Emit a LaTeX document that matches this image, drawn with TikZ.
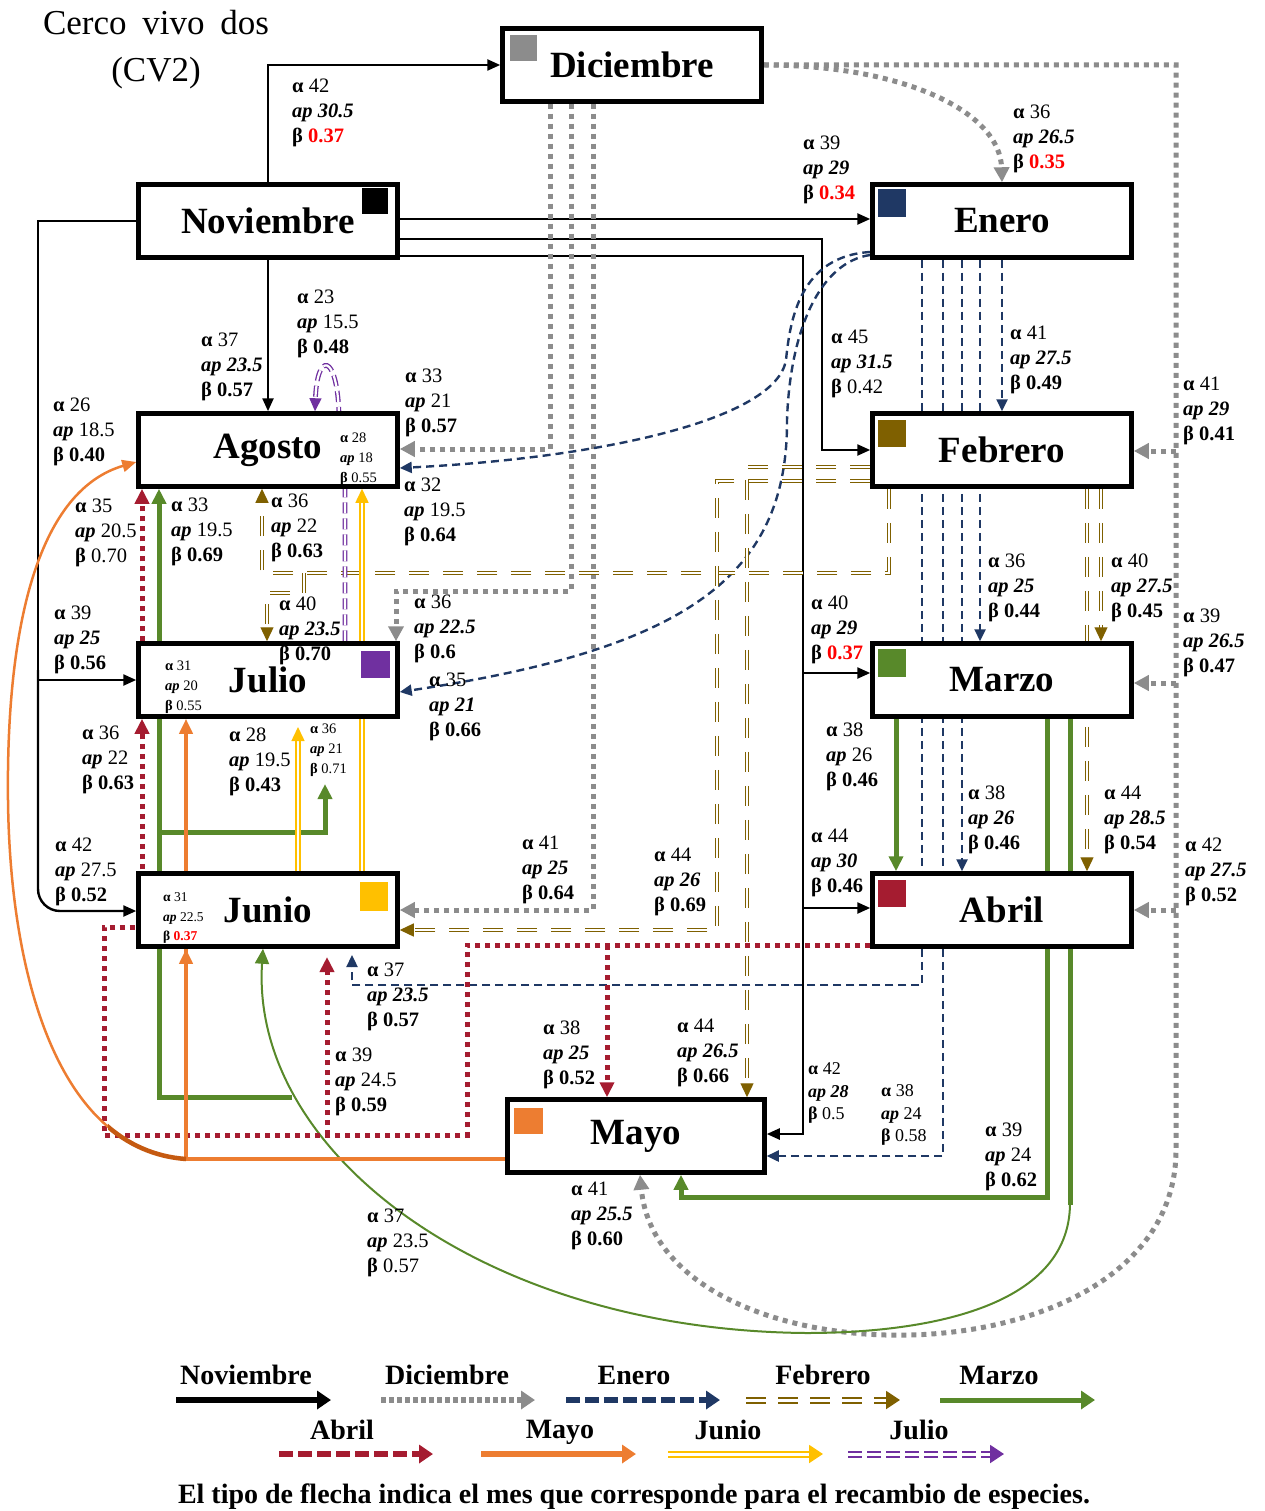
\documentclass[tikz,border=0pt]{standalone}
\usepackage{fontspec}
\setmainfont{Liberation Serif}
\usetikzlibrary{arrows.meta}
\definecolor{cgray}{RGB}{140,140,140}
\definecolor{cnavy}{RGB}{31,56,100}
\definecolor{cbrown}{RGB}{127,96,0}
\definecolor{cgreen}{RGB}{88,137,42}
\definecolor{ccrim}{RGB}{165,28,48}
\definecolor{corange}{RGB}{237,125,49}
\definecolor{cdorange}{RGB}{197,90,17}
\definecolor{cyellow}{RGB}{255,192,0}
\definecolor{cpurple}{RGB}{112,48,160}
\pgfdeclarelayer{bg}
\pgfsetlayers{bg,main}
\newcommand{\myA}[1]{\textbf{α} #1}
\newcommand{\myP}[1]{\textbf{\textit{ap}} #1}
\newcommand{\myPb}[1]{\textbf{\textit{ap #1}}}
\newcommand{\myB}[1]{\textbf{β #1}}
\newcommand{\myBn}[1]{\textbf{β} #1}
\newcommand{\myBr}[1]{\textbf{β \textcolor{red}{#1}}}
\begin{document}
\begin{tikzpicture}[x=1pt,y=-1pt,
  monthbox/.style={draw, line width=4.5pt, fill=white, minimum width=259pt, minimum height=73pt, inner sep=0pt, font=\fontsize{37}{40}\selectfont\bfseries},
  lbl/.style={anchor=west, align=left, inner sep=0pt, font=\fontsize{20.5}{25}\selectfont},
  mlbl/.style={anchor=west, align=left, inner sep=0pt, font=\fontsize{18}{22.5}\selectfont},
  slbl/.style={anchor=west, align=left, inner sep=0pt, font=\fontsize{14.5}{20}\selectfont},
  sslbl/.style={anchor=west, align=left, inner sep=0pt, font=\fontsize{13.5}{19.5}\selectfont},
  legt/.style={inner sep=0pt, font=\fontsize{28}{32}\selectfont\bfseries},
  cNov/.style={draw=black, line width=2.4pt, -{Triangle[length=13pt,width=11pt]}},
  cDic/.style={draw=cgray, line width=5pt, dash pattern=on 5pt off 5pt, -{Triangle[length=15pt,width=15pt]}},
  cEne/.style={draw=cnavy, line width=2.4pt, dash pattern=on 8pt off 5pt, -{Triangle[length=12pt,width=11pt]}},
  cFeb/.style={draw=cbrown, line width=1.3pt, double=white, double distance=2.2pt, dash pattern=on 20pt off 14pt, -{Triangle[length=14pt,width=13pt]}},
  cMar/.style={draw=cgreen, line width=5pt, -{Triangle[length=15pt,width=14pt]}},
  cAbr/.style={draw=ccrim, line width=5pt, dash pattern=on 5pt off 5pt, -{Triangle[length=15pt,width=14pt]}},
  cMay/.style={draw=corange, line width=4pt, -{Triangle[length=15pt,width=13pt]}},
  cJun/.style={draw=cyellow, line width=1.5pt, double=white, double distance=2.2pt, -{Triangle[length=14pt,width=13pt]}},
  cJul/.style={draw=cpurple, line width=1.3pt, double=white, double distance=2.2pt, dash pattern=on 11pt off 5pt, -{Triangle[length=13pt,width=12pt]}},
  lgNov/.style={draw=black, line width=6pt, -{Triangle[length=14pt,width=18pt]}},
  lgDic/.style={draw=cgray, line width=6pt, dash pattern=on 5pt off 3pt, -{Triangle[length=14pt,width=18pt]}},
  lgEne/.style={draw=cnavy, line width=6pt, dash pattern=on 14pt off 5pt, -{Triangle[length=14pt,width=18pt]}},
  lgFeb/.style={draw=cbrown, line width=2pt, double=white, double distance=3pt, dash pattern=on 20pt off 12pt, -{Triangle[length=14pt,width=18pt]}},
  lgMar/.style={draw=cgreen, line width=5pt, -{Triangle[length=14pt,width=18pt]}},
  lgAbr/.style={draw=ccrim, line width=6pt, dash pattern=on 14pt off 5pt, -{Triangle[length=14pt,width=18pt]}},
  lgMay/.style={draw=corange, line width=6pt, -{Triangle[length=14pt,width=18pt]}},
  lgJun/.style={draw=cyellow, line width=2pt, double=white, double distance=3pt, -{Triangle[length=14pt,width=18pt]}},
  lgJul/.style={draw=cpurple, line width=2pt, double=white, double distance=3pt, dash pattern=on 14pt off 5pt, -{Triangle[length=14pt,width=18pt]}},
]
\useasboundingbox (0,0) rectangle (1264,1511);

% title
\node[font=\fontsize{35}{47}\selectfont, align=center, inner sep=0pt] (title) at (156,50) {Cerco\hspace{0.45em}vivo\hspace{0.45em}dos\\(CV2)};

% month boxes
\node[monthbox] (dic) at (632,65) {Diciembre};
\node[monthbox] (nov) at (268,221) {Noviembre};
\node[monthbox] (ene) at (1002,221) {Enero};
\node[monthbox] (ago) at (268,450) {Agosto};
\node[monthbox] (feb) at (1002,450) {Febrero};
\node[monthbox] (jul) at (268,680) {Julio};
\node[monthbox] (mar) at (1002,680) {Marzo};
\node[monthbox] (jun) at (268,910) {Junio};
\node[monthbox] (abr) at (1002,910) {Abril};
\node[monthbox, minimum width=257pt] (may) at (636,1136) {Mayo};

% colour squares
\fill[cgray] (510,35) rectangle (537,61);
\fill[black] (362,188) rectangle (388,214);
\fill[cnavy] (878,189) rectangle (906,217);
\fill[cbrown] (878,420) rectangle (906,447);
\fill[cpurple] (361,651) rectangle (390,678);
\fill[cgreen] (878,649) rectangle (906,677);
\fill[cyellow] (360,882) rectangle (388,911);
\fill[ccrim] (878,880) rectangle (906,907);
\fill[corange] (514,1108) rectangle (543,1134);

% free ends
\coordinate (eneEnd) at (352,955);
\coordinate (abrEnd) at (327,957);
\coordinate (junEnd) at (298,727);
\coordinate (marEnd) at (325,784);

\begin{pgfonlayer}{bg}
% Noviembre
\draw[cNov] (nov.north) |- (dic.west);
\draw[cNov] (nov.east |- 0,219) -- (ene.west |- 0,219);
\draw[cNov] (nov.east |- 0,239) -- (822,239) -- (822,450) -- (feb.west);
\draw[cNov] (nov.east |- 0,256) -- (803,256) -- (803,1134) -- (may.east |- 0,1134);
\draw[cNov] (803,673) -- (mar.west |- 0,673);
\draw[cNov] (803,908) -- (abr.west |- 0,908);
\draw[cNov] (nov.south) -- (ago.north);
\draw[cNov] (nov.west) -- (38,221) -- (38,680) -- (jul.west);
\draw[cNov, rounded corners=22pt] (38,670) -- (38,911) -- (jun.west |- 0,911);
% Diciembre
\draw[cDic] (dic.east) .. controls (900,65) and (1000,110) .. (ene.north);
\draw[cDic] (dic.east) -- (1176,65) -- (1176,1150) .. controls (1176,1390) and (660,1390) .. (may.south -| 640,0);
\draw[cDic] (1176,451) -- (feb.east |- 0,451);
\draw[cDic] (1176,683) -- (mar.east |- 0,683);
\draw[cDic] (1176,910) -- (abr.east |- 0,910);
\draw[cDic] (550,0 |- dic.south) -- (550,449) -- (ago.east |- 0,449);
\draw[cDic] (571,0 |- dic.south) -- (571,591) -- (396,591) -- (396,0 |- jul.north);
\draw[cDic] (593,0 |- dic.south) -- (593,910) -- (jun.east |- 0,910);
% Enero
\draw[cEne] (ene.west |- 0,252) .. controls (800,256) and (790,320) .. (786,360) .. controls (776,420) and (600,458) .. (ago.east |- 0,468);
\draw[cEne] (ene.west |- 0,255) .. controls (820,262) and (790,330) .. (787,420) .. controls (788,580) and (680,650) .. (jul.east |- 0,692);
\draw[cEne] (ene.south) -- (feb.north);
\draw[cEne] (980,0 |- ene.south) -- (980,0 |- mar.north);
\draw[cEne] (962,0 |- ene.south) -- (962,0 |- abr.north);
\draw[cEne] (943,0 |- ene.south) -- (943,1156) -- (may.east |- 0,1156);
\draw[cEne] (922,0 |- ene.south) -- (922,985) -- (352,985) -- (eneEnd);
% Febrero
\draw[cFeb] (889,0 |- feb.south) -- (889,573) -- (262,573) -- (262,0 |- ago.south);
\draw[cFeb] (304,573) -- (304,593) -- (267,593) -- (267,0 |- jul.north);
\draw[cFeb] (feb.west |- 0,481) -- (717,481) -- (717,930) -- (jun.east |- 0,930);
\draw[cFeb] (feb.west |- 0,467) -- (747,467) -- (747,0 |- may.north);
\draw[cFeb] (1101,0 |- feb.south) -- (1101,0 |- mar.north);
\draw[cFeb] (1087,0 |- feb.south) -- (1087,0 |- abr.north);
% Marzo
\draw[cMar] (896,0 |- mar.south) -- (896,0 |- abr.north);
\draw[cMar] (1047,0 |- mar.south) -- (1047,1197) -- (681,1197) -- (681,0 |- may.south);
\draw[cMar, -] (1070,0 |- mar.south) -- (1070,1205);
\draw[cMar, line width=2pt] (1070,1203) .. controls (1070,1310) and (920,1333) .. (806,1333) .. controls (480,1330) and (250,1150) .. (263,0 |- jun.south);
\draw[cMar] (292,1097) -- (159,1097) -- (159,0 |- ago.south);
\draw[cMar] (159,832) -- (325,832) -- (marEnd);
% Abril
\draw[cAbr] (abr.west |- 0,945) -- (467,945) -- (467,1135) -- (104,1135) -- (104,927) -- (142,927) -- (142,0 |- jul.south);
\draw[cAbr] (142,0 |- jul.north) -- (142,0 |- ago.south);
\draw[cAbr] (327,1135) -- (abrEnd);
\draw[cAbr] (607,945) -- (607,0 |- may.north);
% Mayo
\draw[cMay] (may.west |- 0,1159) -- (186,1159) -- (186,0 |- jun.south);
\draw[cMay] (186,1159) -- (186,0 |- jul.south);
\draw[corange, line width=2.5pt, -{Triangle[length=14pt,width=12pt]}] (186,1159) .. controls (60,1150) and (10,980) .. (8,800) .. controls (6,620) and (40,490) .. (ago.west |- 0,462);
\begin{scope}
\clip (108,1122) rectangle (188,1175);
\draw[cdorange, line width=4.5pt] (186,1159) .. controls (60,1150) and (10,980) .. (8,800);
\end{scope}
% Junio
\draw[cJun] (362,0 |- jun.north) -- (362,0 |- ago.south);
\draw[cJun] (298,0 |- jun.north) -- (junEnd);
% Julio
\draw[cJul] (345,0 |- jul.north) -- (345,440) -- (339,414) .. controls (337,352) and (317,352) .. (315,0 |- ago.north);
\end{pgfonlayer}

% labels
\node[lbl] (t1) at (292,113) {\myA{42}\\\myPb{30.5}\\\myBr{0.37}};
\node[lbl] (t2) at (1013,139) {\myA{36}\\\myPb{26.5}\\\myBr{0.35}};
\node[lbl] (t3) at (803,170) {\myA{39}\\\myPb{29}\\\myBr{0.34}};
\node[lbl] (t4) at (297,324) {\myA{23}\\\myP{15.5}\\\myB{0.48}};
\node[lbl] (t5) at (201,367) {\myA{37}\\\myPb{23.5}\\\myB{0.57}};
\node[lbl] (t6) at (405,403) {\myA{33}\\\myP{21}\\\myB{0.57}};
\node[lbl] (t7) at (53,432) {\myA{26}\\\myP{18.5}\\\myB{0.40}};
\node[lbl] (t8) at (831,364) {\myA{45}\\\myPb{31.5}\\\myBn{0.42}};
\node[lbl] (t9) at (1010,360) {\myA{41}\\\myPb{27.5}\\\myB{0.49}};
\node[lbl] (t10) at (1183,411) {\myA{41}\\\myPb{29}\\\myB{0.41}};
\node[slbl] (t11) at (340,459) {\myA{28}\\\myP{18}\\\myBn{0.55}};
\node[lbl] (t12) at (75,533) {\myA{35}\\\myP{20.5}\\\myBn{0.70}};
\node[lbl] (t13) at (171,532) {\myA{33}\\\myP{19.5}\\\myB{0.69}};
\node[lbl] (t14) at (271,528) {\myA{36}\\\myP{22}\\\myB{0.63}};
\node[lbl] (t15) at (404,512) {\myA{32}\\\myP{19.5}\\\myB{0.64}};
\node[lbl] (t16) at (279,631) {\myA{40}\\\myPb{23.5}\\\myB{0.70}};
\node[lbl] (t17) at (414,629) {\myA{36}\\\myPb{22.5}\\\myB{0.6}};
\node[lbl] (t18) at (988,588) {\myA{36}\\\myPb{25}\\\myB{0.44}};
\node[lbl] (t19) at (1111,588) {\myA{40}\\\myPb{27.5}\\\myB{0.45}};
\node[lbl] (t20) at (54,640) {\myA{39}\\\myPb{25}\\\myB{0.56}};
\node[lbl] (t21) at (811,630) {\myA{40}\\\myPb{29}\\\myBr{0.37}};
\node[lbl] (t22) at (1183,643) {\myA{39}\\\myPb{26.5}\\\myB{0.47}};
\node[slbl] (t23) at (165,687) {\myA{31}\\\myP{20}\\\myBn{0.55}};
\node[lbl] (t24) at (429,707) {\myA{35}\\\myPb{21}\\\myB{0.66}};
\node[lbl] (t25) at (82,760) {\myA{36}\\\myP{22}\\\myB{0.63}};
\node[lbl] (t26) at (229,762) {\myA{28}\\\myP{19.5}\\\myB{0.43}};
\node[slbl] (t27) at (310,750) {\myA{36}\\\myP{21}\\\myBn{0.71}};
\node[lbl] (t28) at (826,757) {\myA{38}\\\myP{26}\\\myB{0.46}};
\node[lbl] (t29) at (968,820) {\myA{38}\\\myPb{26}\\\myB{0.46}};
\node[lbl] (t30) at (1104,820) {\myA{44}\\\myPb{28.5}\\\myB{0.54}};
\node[lbl] (t31) at (55,872) {\myA{42}\\\myP{27.5}\\\myB{0.52}};
\node[lbl] (t32) at (522,870) {\myA{41}\\\myPb{25}\\\myB{0.64}};
\node[lbl] (t33) at (654,882) {\myA{44}\\\myPb{26}\\\myB{0.69}};
\node[lbl] (t34) at (811,863) {\myA{44}\\\myPb{30}\\\myB{0.46}};
\node[lbl] (t35) at (1185,872) {\myA{42}\\\myPb{27.5}\\\myB{0.52}};
\node[sslbl] (t36) at (163,918) {\myA{31}\\\myP{22.5}\\\myBr{0.37}};
\node[lbl] (t37) at (367,997) {\myA{37}\\\myPb{23.5}\\\myB{0.57}};
\node[lbl] (t38) at (543,1055) {\myA{38}\\\myPb{25}\\\myB{0.52}};
\node[lbl] (t39) at (677,1053) {\myA{44}\\\myPb{26.5}\\\myB{0.66}};
\node[lbl] (t40) at (335,1082) {\myA{39}\\\myP{24.5}\\\myB{0.59}};
\node[mlbl] (t41) at (808,1093) {\myA{42}\\\myPb{28}\\\myBn{0.5}};
\node[mlbl] (t42) at (881,1115) {\myA{38}\\\myP{24}\\\myBn{0.58}};
\node[lbl] (t43) at (985,1157) {\myA{39}\\\myP{24}\\\myB{0.62}};
\node[lbl] (t44) at (571,1216) {\myA{41}\\\myPb{25.5}\\\myB{0.60}};
\node[lbl] (t45) at (367,1243) {\myA{37}\\\myP{23.5}\\\myBn{0.57}};

% legend
\node[legt] (lgtNov) at (246,1375) {Noviembre};
\node[legt] (lgtDic) at (447,1375) {Diciembre};
\node[legt] (lgtEne) at (634,1375) {Enero};
\node[legt] (lgtFeb) at (823,1375) {Febrero};
\node[legt] (lgtMar) at (999,1375) {Marzo};
\node[legt] (lgtAbr) at (342,1430) {Abril};
\node[legt] (lgtMay) at (560,1432) {Mayo};
\node[legt] (lgtJun) at (728,1430) {Junio};
\node[legt] (lgtJul) at (919,1430) {Julio};
\coordinate (a1) at (176,1400); \coordinate (b1) at (331,1400);
\coordinate (a2) at (381,1400); \coordinate (b2) at (535,1400);
\coordinate (a3) at (566,1400); \coordinate (b3) at (720,1400);
\coordinate (a4) at (746,1400); \coordinate (b4) at (900,1400);
\coordinate (a5) at (940,1400); \coordinate (b5) at (1095,1400);
\coordinate (a6) at (279,1454); \coordinate (b6) at (433,1454);
\coordinate (a7) at (481,1454); \coordinate (b7) at (636,1454);
\coordinate (a8) at (668,1454); \coordinate (b8) at (823,1454);
\coordinate (a9) at (848,1454); \coordinate (b9) at (1004,1454);
\draw[lgNov] (a1) -- (b1);
\draw[lgDic] (a2) -- (b2);
\draw[lgEne] (a3) -- (b3);
\draw[lgFeb] (a4) -- (b4);
\draw[lgMar] (a5) -- (b5);
\draw[lgAbr] (a6) -- (b6);
\draw[lgMay] (a7) -- (b7);
\draw[lgJun] (a8) -- (b8);
\draw[lgJul] (a9) -- (b9);
\node[legt] (caption) at (634,1497) {El tipo de flecha indica el mes que corresponde para el recambio de especies.};
\end{tikzpicture}
\end{document}
